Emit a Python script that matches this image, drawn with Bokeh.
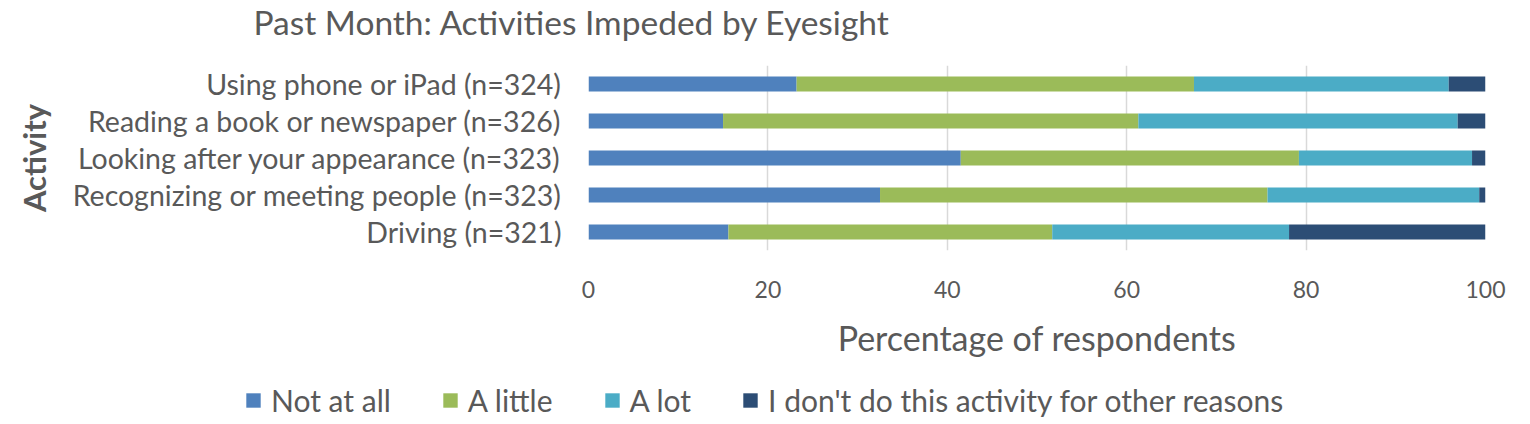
from bokeh.plotting import figure
from bokeh.models import (ColumnDataSource, Range1d, FactorRange, Legend, LegendItem, Label)
from bokeh.layouts import column
from bokeh.embed import file_html
from bokeh.resources import INLINE

activities = [
    "Using phone or iPad (n=324)",
    "Reading a book or newspaper (n=326)",
    "Looking after your appearance (n=323)",
    "Recognizing or meeting people (n=323)",
    "Driving (n=321)",
]
not_at_all = [23.2, 15.0, 41.5, 32.5, 15.6]
a_little = [44.3, 46.3, 37.7, 43.2, 36.1]
a_lot = [28.4, 35.6, 19.3, 23.6, 26.4]
other_reasons = [4.1, 3.1, 1.5, 0.7, 21.9]
series_names = ["Not at all", "A little", "A lot", "I don't do this activity for other reasons"]
colors = ["#4F81BD", "#9BBB59", "#4BACC6", "#2C4D75"]
x_ticks = [0, 20, 40, 60, 80, 100]
chart_title = "Past Month: Activities Impeded by Eyesight"

FONT = "Lato"
TXT = "#595959"


def strip(height):
    f = figure(width=1514, height=height, output_backend="svg", toolbar_location=None,
               x_range=Range1d(0, 1), y_range=Range1d(0, 1),
               min_border=0, min_border_left=0, min_border_right=0,
               min_border_top=0, min_border_bottom=0)
    f.axis.visible = False
    f.grid.visible = False
    f.outline_line_color = None
    return f


# title strip
pt = strip(48)
pt.add_layout(Label(x=253, y=27, x_units="screen", y_units="screen", text=chart_title,
                    text_font=FONT, text_font_size="33.5px", text_color=TXT,
                    text_baseline="middle", text_align="left"))

# main chart
source = ColumnDataSource(dict(
    activity=activities,
    s0=not_at_all, s1=a_little, s2=a_lot, s3=other_reasons,
))

p = figure(width=1514, height=332, output_backend="svg", toolbar_location=None,
           x_range=Range1d(0, 100), y_range=FactorRange(factors=activities[::-1], range_padding=0),
           min_border_left=588, min_border_right=29, min_border_top=17, min_border_bottom=130)
p.outline_line_color = None
p.background_fill_color = "white"

renderers = p.hbar_stack(["s0", "s1", "s2", "s3"], y="activity", height=0.41,
                         color=colors, line_color=None, source=source)

p.xaxis.ticker = x_ticks
p.xaxis.axis_line_color = None
p.xaxis.major_tick_line_color = None
p.xaxis.minor_tick_line_color = None
p.xaxis.major_label_standoff = 24
p.xaxis.major_label_text_font = FONT
p.xaxis.major_label_text_font_size = "23px"
p.xaxis.major_label_text_color = TXT
p.xaxis.axis_label = "Percentage of respondents"
p.xaxis.axis_label_text_font = FONT
p.xaxis.axis_label_text_font_size = "34px"
p.xaxis.axis_label_text_font_style = "normal"
p.xaxis.axis_label_text_color = TXT
p.xaxis.axis_label_standoff = 16

p.yaxis.axis_line_color = None
p.yaxis.major_tick_line_color = None
p.yaxis.minor_tick_line_color = None
p.yaxis.major_label_standoff = 21
p.yaxis.major_label_text_font = FONT
p.yaxis.major_label_text_font_size = "28.5px"
p.yaxis.major_label_text_color = TXT
p.yaxis.axis_label = "Activity"
p.yaxis.axis_label_text_font = FONT
p.yaxis.axis_label_text_font_size = "31px"
p.yaxis.axis_label_text_font_style = "bold"
p.yaxis.axis_label_text_color = TXT
p.yaxis.axis_label_standoff = 17

p.xgrid.grid_line_color = "#D9D9D9"
p.xgrid.grid_line_width = 1.5
p.ygrid.grid_line_color = None

# legend strip below the chart
pl = strip(44)
nan = float("nan")
swatches = [pl.rect(x=[nan], y=[nan], width=1, height=1, fill_color=c, line_color=None) for c in colors]
legend = Legend(items=[LegendItem(label=n, renderers=[r]) for n, r in zip(series_names, swatches)],
                orientation="horizontal", location=(244, 6),
                glyph_width=18, glyph_height=18, label_standoff=9, spacing=50,
                padding=0, margin=0, border_line_color=None, background_fill_alpha=0,
                label_text_font=FONT, label_text_font_size="30px", label_text_color=TXT)
pl.add_layout(legend, "center")

for fig in (pt, p, pl):
    try:
        fig.frame_align = False
    except Exception:
        pass

layout = column(pt, p, pl, spacing=0)
open("out.html", "w").write(file_html(layout, INLINE))
